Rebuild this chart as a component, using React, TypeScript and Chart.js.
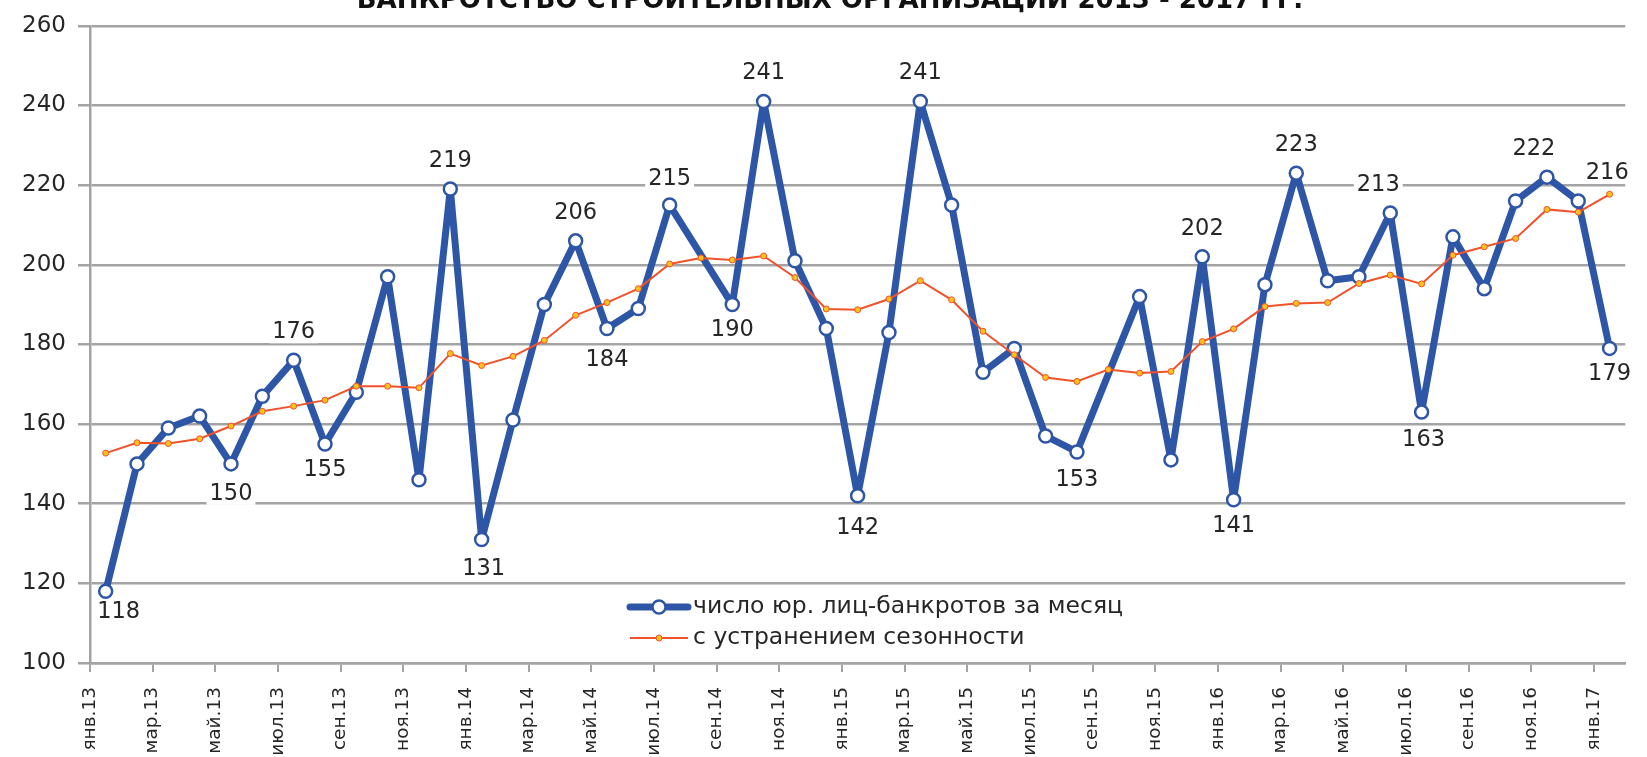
import React, { useEffect, useRef } from 'react';
import { Chart, registerables } from 'chart.js';

Chart.register(...registerables);

const chartTitle = 'БАНКРОТСТВО СТРОИТЕЛЬНЫХ ОРГАНИЗАЦИЙ 2013 - 2017 ГГ.';

const categories = [
  'янв.13', 'фев.13', 'мар.13', 'апр.13', 'май.13', 'июн.13', 'июл.13', 'авг.13', 'сен.13', 'окт.13', 'ноя.13', 'дек.13',
  'янв.14', 'фев.14', 'мар.14', 'апр.14', 'май.14', 'июн.14', 'июл.14', 'авг.14', 'сен.14', 'окт.14', 'ноя.14', 'дек.14',
  'янв.15', 'фев.15', 'мар.15', 'апр.15', 'май.15', 'июн.15', 'июл.15', 'авг.15', 'сен.15', 'окт.15', 'ноя.15', 'дек.15',
  'янв.16', 'фев.16', 'мар.16', 'апр.16', 'май.16', 'июн.16', 'июл.16', 'авг.16', 'сен.16', 'окт.16', 'ноя.16', 'дек.16',
  'янв.17',
];

const seriesNames = ['число юр. лиц-банкротов за месяц', 'с устранением сезонности'];

// число юр. лиц-банкротов за месяц (null = no marker in the source)
const monthlyBankrupt = [
  118, 150, 159, 162, 150, 167, 176, 155, 168, 197, 146, 219,
  131, 161, 190, 206, 184, 189, 215, null, 190, 241, 201, 184,
  142, 183, 241, 215, 173, 179, 157, 153, null, 192, 151, 202,
  141, 195, 223, 196, 197, 213, 163, 207, 194, 216, 222, 216,
  179,
];

// с устранением сезонности
const seasonallyAdjusted = [
  152.7, 155.3, 155.1, 156.3, 159.5, 163.2, 164.5, 166.0, 169.5, 169.5, 169.1, 177.7,
  174.7, 177.0, 181.0, 187.3, 190.5, 194.0, 200.2, 201.7, 201.2, 202.2, 196.8, 188.9,
  188.7, 191.4, 196.0, 191.2, 183.3, 177.4, 171.7, 170.7, 173.7, 172.8, 173.2, 180.7,
  183.9, 189.5, 190.3, 190.5, 195.3, 197.4, 195.2, 202.4, 204.5, 206.6, 213.9, 213.2,
  217.7,
];

const yMin = 100;
const yMax = 260;
const yStep = 20;

// which points of the monthly series carry a value label, and where
const labelPlacement = [
  { i: 0, pos: 'below', dx: 13, dy: -9 },
  { i: 4, pos: 'below', dx: 0, dy: 0 },
  { i: 6, pos: 'above', dx: 0, dy: 0 },
  { i: 7, pos: 'below', dx: 0, dy: -4 },
  { i: 11, pos: 'above', dx: 0, dy: 0 },
  { i: 12, pos: 'below', dx: 2, dy: 0 },
  { i: 15, pos: 'above', dx: 0, dy: 0 },
  { i: 16, pos: 'below', dx: 0, dy: 2 },
  { i: 18, pos: 'above', dx: 0, dy: 2 },
  { i: 20, pos: 'below', dx: 0, dy: -4 },
  { i: 21, pos: 'above', dx: 0, dy: 0 },
  { i: 24, pos: 'below', dx: 0, dy: 2 },
  { i: 26, pos: 'above', dx: 0, dy: 0 },
  { i: 31, pos: 'below', dx: 0, dy: -2 },
  { i: 35, pos: 'above', dx: 0, dy: 0 },
  { i: 36, pos: 'below', dx: 0, dy: -4 },
  { i: 38, pos: 'above', dx: 0, dy: 0 },
  { i: 41, pos: 'above', dx: -12, dy: 0 },
  { i: 42, pos: 'below', dx: 2, dy: -2 },
  { i: 46, pos: 'above', dx: -13, dy: 0 },
  { i: 47, pos: 'above', dx: 29, dy: 0 },
  { i: 48, pos: 'below', dx: 0, dy: -4 },
];

const BLUE = '#2E56A6';
const RED = '#F0522C';
const DOT = '#FFC21A';
const GRID = '#A3A3A3';
const TEXT = '#262626';
const FONT = '"DejaVu Sans", "Open Sans", sans-serif';

const titlePlugin = {
  id: 'cutTitle',
  afterDraw(chart: any) {
    const ctx = chart.ctx;
    ctx.save();
    ctx.font = `bold 26px ${FONT}`;
    ctx.fillStyle = '#111';
    ctx.textAlign = 'center';
    ctx.textBaseline = 'alphabetic';
    ctx.fillText(chartTitle, 830, 8);
    ctx.restore();
  },
};

const valueLabelPlugin = {
  id: 'valueLabels',
  afterDatasetsDraw(chart: any) {
    const ctx = chart.ctx;
    const meta = chart.getDatasetMeta(1);
    ctx.save();
    ctx.font = `22.5px ${FONT}`;
    ctx.textAlign = 'center';
    ctx.textBaseline = 'middle';
    labelPlacement.forEach((lp) => {
      const el = meta.data[lp.i];
      const v = monthlyBankrupt[lp.i];
      if (!el || v == null) return;
      const text = String(v);
      const x = el.x + lp.dx;
      const y = el.y + (lp.pos === 'above' ? -28 : 30) + lp.dy;
      const w = ctx.measureText(text).width;
      ctx.fillStyle = '#ffffff';
      ctx.fillRect(x - w / 2 - 3, y - 11, w + 6, 22);
      ctx.fillStyle = TEXT;
      ctx.fillText(text, x, y);
    });
    ctx.restore();
  },
};

const legendPlugin = {
  id: 'innerLegend',
  afterDraw(chart: any) {
    const ctx = chart.ctx;
    ctx.save();
    // row 1: monthly series
    const y1 = 607;
    ctx.strokeStyle = BLUE;
    ctx.lineWidth = 7;
    ctx.lineCap = 'round';
    ctx.beginPath();
    ctx.moveTo(630, y1);
    ctx.lineTo(688, y1);
    ctx.stroke();
    ctx.beginPath();
    ctx.arc(659, y1, 6.5, 0, Math.PI * 2);
    ctx.fillStyle = '#fff';
    ctx.fill();
    ctx.lineWidth = 2.5;
    ctx.stroke();
    // row 2: seasonally adjusted
    const y2 = 638;
    ctx.strokeStyle = RED;
    ctx.lineWidth = 2;
    ctx.lineCap = 'butt';
    ctx.beginPath();
    ctx.moveTo(630, y2);
    ctx.lineTo(688, y2);
    ctx.stroke();
    ctx.beginPath();
    ctx.arc(659, y2, 3, 0, Math.PI * 2);
    ctx.fillStyle = DOT;
    ctx.fill();
    ctx.lineWidth = 1;
    ctx.stroke();

    ctx.font = `23.5px ${FONT}`;
    ctx.fillStyle = TEXT;
    ctx.textAlign = 'left';
    ctx.textBaseline = 'middle';
    ctx.fillText(seriesNames[0], 693, y1);
    ctx.fillText(seriesNames[1], 693, y2);
    ctx.restore();
  },
};

export default function App() {
  const canvasRef = useRef<HTMLCanvasElement | null>(null);

  useEffect(() => {
    if (!canvasRef.current) return;
    const chart = new Chart(canvasRef.current, {
      type: 'line',
      data: {
        labels: categories,
        datasets: [
          {
            label: seriesNames[1],
            data: seasonallyAdjusted,
            borderColor: RED,
            borderWidth: 2,
            pointRadius: 3,
            pointBorderWidth: 1,
            pointBackgroundColor: DOT,
            pointBorderColor: RED,
            tension: 0,
            order: 0,
          },
          {
            label: seriesNames[0],
            data: monthlyBankrupt,
            borderColor: BLUE,
            borderWidth: 7,
            borderJoinStyle: 'round',
            pointRadius: 6.5,
            pointBorderWidth: 2.5,
            pointBackgroundColor: '#ffffff',
            pointBorderColor: BLUE,
            spanGaps: true,
            tension: 0,
            order: 1,
          },
        ],
      },
      options: {
        responsive: false,
        animation: false,
        devicePixelRatio: 1,
        layout: { padding: { top: 23, right: 21, left: 0, bottom: 0 } },
        plugins: {
          legend: { display: false },
          tooltip: { enabled: false },
          title: { display: false },
        },
        scales: {
          x: {
            type: 'category',
            offset: true,
            afterFit: (s: any) => { s.height = 94; },
            grid: {
              offset: true,
              drawOnChartArea: false,
              drawTicks: true,
              tickLength: 9,
              lineWidth: 2,
              color: (c: any) => (typeof c.index === 'number' && c.index % 2 === 0 ? GRID : 'rgba(0,0,0,0)'),
            },
            border: { display: true, color: GRID, width: 2.5 },
            ticks: {
              autoSkip: false,
              maxRotation: 90,
              minRotation: 90,
              labelOffset: -15.7,
              padding: 15,
              color: TEXT,
              font: { family: FONT, size: 18.5 },
              callback: (_v: any, i: number) => (i % 2 === 0 ? categories[i] : ''),
            },
          },
          y: {
            min: yMin,
            max: yMax,
            afterFit: (s: any) => { s.width = 90; },
            grid: {
              color: GRID,
              lineWidth: 2.5,
              drawTicks: true,
              tickLength: 12,
            },
            border: { display: true, color: GRID, width: 2.5 },
            ticks: {
              stepSize: yStep,
              padding: 12,
              color: TEXT,
              font: { family: FONT, size: 23 },
            },
          },
        },
      },
      plugins: [titlePlugin, valueLabelPlugin, legendPlugin],
    } as any);
    return () => chart.destroy();
  }, []);

  return (
    <div style={{ position: 'absolute', left: 0, top: 0, width: 1647, height: 757, background: '#fff', overflow: 'hidden' }}>
      <canvas ref={canvasRef} width={1647} height={757} />
    </div>
  );
}
